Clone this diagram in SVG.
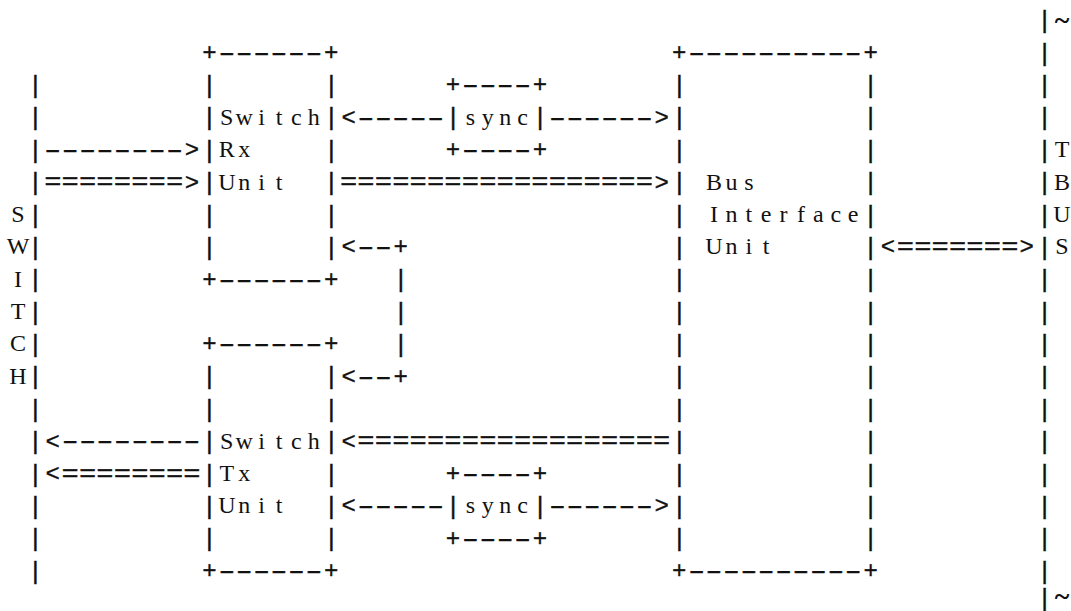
<svg xmlns="http://www.w3.org/2000/svg" width="1071" height="611" viewBox="0 0 1071 611">
<style>
.m{font-family:"Liberation Mono","DejaVu Sans Mono",monospace;font-size:24px;letter-spacing:3px;fill:#111;stroke:#111;stroke-width:0.35px;}
.v{font-family:"Liberation Mono","DejaVu Sans Mono",monospace;font-size:24.5px;fill:#111;stroke:#111;stroke-width:0.45px;}
.d{font-family:"Liberation Sans","Arial",sans-serif;font-size:24px;letter-spacing:0.54px;fill:#111;stroke:#111;stroke-width:0.3px;}
.e{font-family:"Liberation Mono","DejaVu Sans Mono",monospace;font-size:24px;letter-spacing:0.1px;fill:#111;stroke:#111;stroke-width:0.3px;}
.s{font-family:"Liberation Serif","DejaVu Serif",serif;font-size:24px;text-anchor:middle;fill:#111;}
.t{font-family:"Liberation Serif","DejaVu Serif",serif;font-size:28px;font-weight:bold;text-anchor:middle;fill:#111;}
</style>
<rect width="1071" height="611" fill="#fff"/>
<g id="switch-bus">
<text class="v" x="28.1 28.1 28.1 28.1 28.1 28.1 28.1 28.1 28.1 28.1 28.1 28.1 28.1 28.1 28.1 28.1" y="93 125.3 157.7 190.1 222.5 254.8 287.2 319.6 352 384.3 416.7 449.1 481.5 513.8 546.2 578.6">||||||||||||||||</text>
<text class="s" x="18 18 18 18 18 18" y="221.9 254.2 286.6 319 351.4 383.7">SWITCH</text>
</g>
<g id="tbus">
<text class="v" x="1037.3 1037.3 1037.3 1037.3 1037.3 1037.3 1037.3 1037.3 1037.3 1037.3 1037.3 1037.3 1037.3 1037.3 1037.3 1037.3 1037.3 1037.3" y="28.2 60.6 93 125.3 157.7 190.1 222.5 254.8 287.2 319.6 352 384.3 416.7 449.1 481.5 513.8 546.2 578.6">||||||||||||||||||</text>
<text class="v" x="1037.3" y="606">|</text>
<text class="t" x="1062" y="29">~</text>
<text class="t" x="1062" y="605">~</text>
<text class="s" x="1062 1062 1062 1062" y="157.1 189.5 221.9 254.2">TBUS</text>
</g>
<g id="switch-rx-unit">
<text class="m" x="202.2" y="60">+</text>
<text class="d" transform="scale(2.04,1)" x="107.18" y="60">------</text>
<text class="m" x="324" y="60">+</text>
<text class="m" x="202.2" y="286.6">+</text>
<text class="d" transform="scale(2.04,1)" x="107.18" y="286.6">------</text>
<text class="m" x="324" y="286.6">+</text>
<text class="v" x="202.1 202.1 202.1 202.1 202.1 202.1" y="93 125.3 157.7 190.1 222.5 254.8">||||||</text>
<text class="v" x="323.9 323.9 323.9 323.9 323.9 323.9" y="93 125.3 157.7 190.1 222.5 254.8">||||||</text>
<text class="s" x="226.8 244.2 261.6 279 296.4 313.8" y="124.7">Switch</text>
<text class="s" x="226.8 244.2" y="157.1">Rx</text>
<text class="s" x="226.8 244.2 261.6 279" y="189.5">Unit</text>
</g>
<g id="switch-tx-unit">
<text class="m" x="202.2" y="351.4">+</text>
<text class="d" transform="scale(2.04,1)" x="107.18" y="351.4">------</text>
<text class="m" x="324" y="351.4">+</text>
<text class="m" x="202.2" y="578">+</text>
<text class="d" transform="scale(2.04,1)" x="107.18" y="578">------</text>
<text class="m" x="324" y="578">+</text>
<text class="v" x="202.1 202.1 202.1 202.1 202.1 202.1" y="384.3 416.7 449.1 481.5 513.8 546.2">||||||</text>
<text class="v" x="323.9 323.9 323.9 323.9 323.9 323.9" y="384.3 416.7 449.1 481.5 513.8 546.2">||||||</text>
<text class="s" x="226.8 244.2 261.6 279 296.4 313.8" y="448.5">Switch</text>
<text class="s" x="226.8 244.2" y="480.9">Tx</text>
<text class="s" x="226.8 244.2 261.6 279" y="513.2">Unit</text>
</g>
<g id="sync-rx">
<text class="m" x="445.8" y="92.4">+</text>
<text class="d" transform="scale(2.04,1)" x="226.59" y="92.4">----</text>
<text class="m" x="532.8" y="92.4">+</text>
<text class="m" x="445.8" y="157.1">+</text>
<text class="d" transform="scale(2.04,1)" x="226.59" y="157.1">----</text>
<text class="m" x="532.8" y="157.1">+</text>
<text class="v" x="445.7" y="125.3">|</text>
<text class="v" x="532.7" y="125.3">|</text>
<text class="s" x="470.4 487.8 505.2 522.6" y="124.7">sync</text>
</g>
<g id="sync-tx">
<text class="m" x="445.8" y="480.9">+</text>
<text class="d" transform="scale(2.04,1)" x="226.59" y="480.9">----</text>
<text class="m" x="532.8" y="480.9">+</text>
<text class="m" x="445.8" y="545.6">+</text>
<text class="d" transform="scale(2.04,1)" x="226.59" y="545.6">----</text>
<text class="m" x="532.8" y="545.6">+</text>
<text class="v" x="445.7" y="513.8">|</text>
<text class="v" x="532.7" y="513.8">|</text>
<text class="s" x="470.4 487.8 505.2 522.6" y="513.2">sync</text>
</g>
<g id="bus-interface-unit">
<text class="m" x="672" y="60">+</text>
<text class="d" transform="scale(2.04,1)" x="337.47" y="60">----------</text>
<text class="m" x="863.4" y="60">+</text>
<text class="m" x="672" y="578">+</text>
<text class="d" transform="scale(2.04,1)" x="337.47" y="578">----------</text>
<text class="m" x="863.4" y="578">+</text>
<text class="v" x="671.9 671.9 671.9 671.9 671.9 671.9 671.9 671.9 671.9 671.9 671.9 671.9 671.9 671.9 671.9" y="93 125.3 157.7 190.1 222.5 254.8 287.2 319.6 352 384.3 416.7 449.1 481.5 513.8 546.2">|||||||||||||||</text>
<text class="v" x="863.3 863.3 863.3 863.3 863.3 863.3 863.3 863.3 863.3 863.3 863.3 863.3 863.3 863.3 863.3" y="93 125.3 157.7 190.1 222.5 254.8 287.2 319.6 352 384.3 416.7 449.1 481.5 513.8 546.2">|||||||||||||||</text>
<text class="s" x="714 731.4 748.8" y="189.5">Bus</text>
<text class="s" x="714 731.4 748.8 766.2 783.6 801 818.4 835.8 853.2" y="221.9">Interface</text>
<text class="s" x="714 731.4 748.8 766.2" y="254.2">Unit</text>
</g>
<g id="connectors">
<text class="d" transform="scale(2.04,1)" x="21.88" y="157.1">--------</text>
<text class="m" x="184.8" y="157.1">&gt;</text>
<text class="e" transform="scale(1.2,1)" x="36.8" y="189.5">========</text>
<text class="m" x="184.8" y="189.5">&gt;</text>
<text class="m" x="341.4" y="124.7">&lt;</text>
<text class="d" transform="scale(2.04,1)" x="175.41" y="124.7">-----</text>
<text class="d" transform="scale(2.04,1)" x="269.24" y="124.7">------</text>
<text class="m" x="654.6" y="124.7">&gt;</text>
<text class="e" transform="scale(1.2,1)" x="283.3" y="189.5">==================</text>
<text class="m" x="654.6" y="189.5">&gt;</text>
<text class="m" x="341.4" y="254.2">&lt;</text>
<text class="d" transform="scale(2.04,1)" x="175.41" y="254.2">--</text>
<text class="m" x="393.6" y="254.2">+</text>
<text class="v" x="393.5 393.5 393.5" y="287.2 319.6 352">|||</text>
<text class="m" x="341.4" y="383.7">&lt;</text>
<text class="d" transform="scale(2.04,1)" x="175.41" y="383.7">--</text>
<text class="m" x="393.6" y="383.7">+</text>
<text class="m" x="880.8" y="254.2">&lt;</text>
<text class="e" transform="scale(1.2,1)" x="747.3" y="254.2">=======</text>
<text class="m" x="1019.4" y="254.2">&gt;</text>
<text class="m" x="45.6" y="448.5">&lt;</text>
<text class="d" transform="scale(2.04,1)" x="30.41" y="448.5">--------</text>
<text class="m" x="341.4" y="448.5">&lt;</text>
<text class="e" transform="scale(1.2,1)" x="297.8" y="448.5">==================</text>
<text class="m" x="45.6" y="480.9">&lt;</text>
<text class="e" transform="scale(1.2,1)" x="51.3" y="480.9">========</text>
<text class="m" x="341.4" y="513.2">&lt;</text>
<text class="d" transform="scale(2.04,1)" x="175.41" y="513.2">-----</text>
<text class="d" transform="scale(2.04,1)" x="269.24" y="513.2">------</text>
<text class="m" x="654.6" y="513.2">&gt;</text>
</g>
</svg>
